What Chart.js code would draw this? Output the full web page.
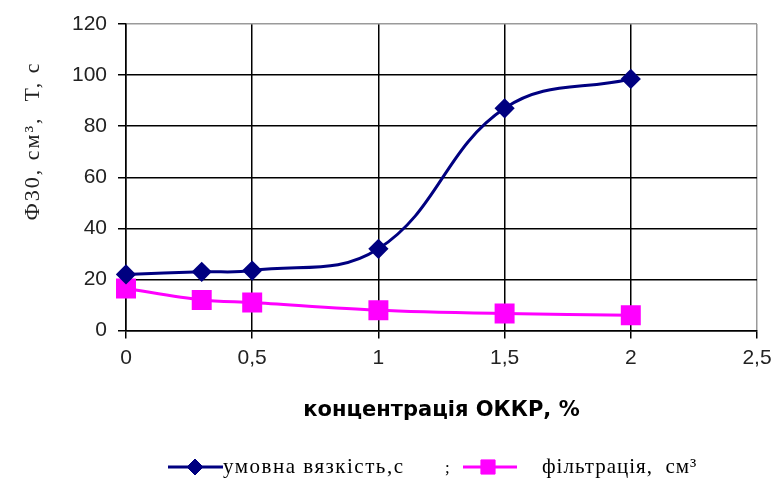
<!DOCTYPE html>
<html>
<head>
<meta charset="utf-8">
<script src="https://cdn.jsdelivr.net/npm/chart.js@4.4.1/dist/chart.umd.min.js"></script>
<style>
    html, body { margin: 0; padding: 0; background: #fff; }
    #wrap { width: 774px; height: 479px; }
</style>
</head>
<body>
<div id="wrap"><canvas id="chart" width="774" height="479"></canvas></div>
<script>
    // concentration of OKKR, %
    const concentration = [0, 0.3, 0.5, 1, 1.5, 2];
    // conditional viscosity, s
    const viscosity = [22, 23, 23.5, 32, 87, 98.5];
    // filtration, cm3
    const filtration = [16.5, 12, 11, 8, 6.7, 6];

    const xTicks = [0, 0.5, 1, 1.5, 2, 2.5];
    const yTicks = [0, 20, 40, 60, 80, 100, 120];

    const yTitle = "Ф30, см³,  Т, с";

    const navy = "#000080";
    const pink = "#ff00ff";

    function toPoints(xs, ys) {
        return xs.map((x, i) => ({ x: x, y: ys[i] }));
    }

    function marker(ctx, ds, x, y, r) {
        ctx.fillStyle = ds.borderColor;
        ctx.strokeStyle = ds.borderColor;
        ctx.lineWidth = 1;
        Chart.helpers.drawPoint(ctx, { pointStyle: ds.pointStyle, radius: r, rotation: 0, borderWidth: 1 }, x, y);
    }

    // y title + legend drawn like the source (spaced serif text, line + marker)
    const extras = {
        id: "extras",
        afterDraw(chart) {
            const ctx = chart.ctx;
            ctx.save();
            ctx.fillStyle = "#222";
            ctx.font = "22px 'Liberation Serif', serif";
            ctx.letterSpacing = "2px";
            ctx.textAlign = "center";
            ctx.textBaseline = "middle";
            ctx.translate(33, 141);
            ctx.rotate(-Math.PI / 2);
            ctx.fillText(yTitle, 0, 0);
            ctx.restore();

            const y = 467;
            const items = [
                { ds: chart.data.datasets[0], x0: 168, x1: 223, mx: 195, r: 8, tx: 223, sp: "1.5px" },
                { ds: chart.data.datasets[1], x0: 463, x1: 517, mx: 488, r: 10, tx: 542, sp: "1px" }
            ];
            ctx.save();
            items.forEach(it => {
                ctx.strokeStyle = it.ds.borderColor;
                ctx.lineWidth = 3;
                ctx.beginPath();
                ctx.moveTo(it.x0, y);
                ctx.lineTo(it.x1, y);
                ctx.stroke();
                marker(ctx, it.ds, it.mx, y, it.r);
                ctx.fillStyle = "#000";
                ctx.font = "21px 'Liberation Serif', serif";
                ctx.letterSpacing = it.sp;
                ctx.textBaseline = "middle";
                ctx.textAlign = "left";
                ctx.fillText(it.ds.label, it.tx, y);
            });
            ctx.letterSpacing = "0px";
            ctx.font = "17px 'Liberation Serif', serif";
            ctx.fillText(";", 445, y + 2);
            ctx.restore();
        }
    };

    const gridColor = (last) => (c) => (c.tick && c.tick.value === last) ? "#9a9a9a" : "#000";

    new Chart(document.getElementById("chart"), {
        type: "scatter",
        data: {
            datasets: [
                {
                    label: "умовна вязкість,с",
                    data: toPoints(concentration, viscosity),
                    showLine: true,
                    clip: false,
                    borderColor: navy,
                    backgroundColor: navy,
                    borderWidth: 3,
                    tension: 0.4,
                    pointStyle: "rectRot",
                    pointRadius: 8,
                    pointHoverRadius: 8
                },
                {
                    label: "фільтрація,  см³",
                    data: toPoints(concentration, filtration),
                    showLine: true,
                    clip: false,
                    borderColor: pink,
                    backgroundColor: pink,
                    borderWidth: 3,
                    tension: 0.3,
                    pointStyle: "rect",
                    pointRadius: 12,
                    pointHoverRadius: 12
                }
            ]
        },
        options: {
            responsive: false,
            animation: false,
            layout: { padding: { left: 0, right: 17, top: 24, bottom: 56 } },
            plugins: {
                legend: { display: false },
                tooltip: { enabled: false }
            },
            scales: {
                x: {
                    type: "linear",
                    min: 0,
                    max: 2.5,
                    afterBuildTicks: (axis) => { axis.ticks = xTicks.map(v => ({ value: v })); },
                    afterFit: (axis) => { axis.paddingRight = 0; },
                    grid: { color: gridColor(2.5), lineWidth: 1.5, tickLength: 8, tickColor: "#000" },
                    border: { color: "#000", width: 1.5 },
                    ticks: {
                        color: "#222",
                        padding: 7,
                        font: { family: "'Liberation Sans', Arial", size: 21 },
                        callback: (v) => String(v).replace(".", ",")
                    },
                    title: {
                        display: true,
                        text: "концентрація ОККР, %",
                        color: "#000",
                        font: { family: "'DejaVu Sans', Verdana", size: 21, weight: "bold" },
                        padding: { top: 20, bottom: 0 }
                    }
                },
                y: {
                    min: 0,
                    max: 120,
                    afterBuildTicks: (axis) => { axis.ticks = yTicks.map(v => ({ value: v })); },
                    afterFit: (axis) => { axis.width = 126; },
                    grid: { color: gridColor(120), lineWidth: 1.5, tickLength: 8, tickColor: "#000" },
                    border: { color: "#000", width: 1.5 },
                    ticks: {
                        color: "#222",
                        padding: 11,
                        font: { family: "'Liberation Sans', Arial", size: 21 }
                    }
                }
            }
        },
        plugins: [extras]
    });
</script>
</body>
</html>
